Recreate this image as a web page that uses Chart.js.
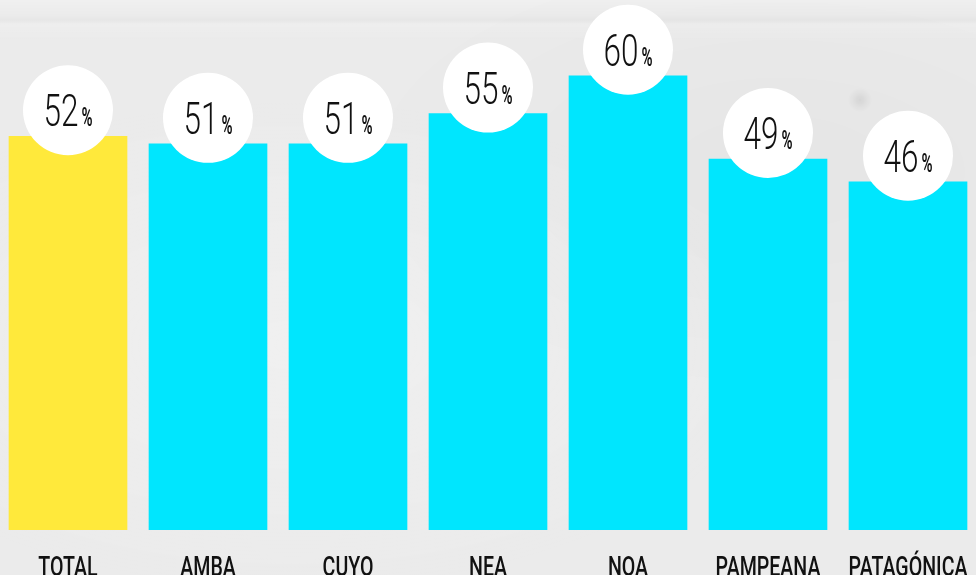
<!DOCTYPE html>
<html>
<head>
<meta charset="utf-8">
<script src="https://cdn.jsdelivr.net/npm/chart.js@4.4.1/dist/chart.umd.min.js"></script>
<style>
  html, body { margin:0; padding:0; width:976px; height:575px; overflow:hidden; }
  body {
    background-color:#ebebeb;
    background-image:
      linear-gradient(180deg, rgba(255,255,255,0.25) 0px, rgba(255,255,255,0) 16px, rgba(0,0,0,0.02) 20px, rgba(255,255,255,0.15) 24px, rgba(255,255,255,0) 40px),
      radial-gradient(circle at 860px 100px, rgba(0,0,0,0.08) 0, rgba(0,0,0,0) 12px),
      radial-gradient(circle at 380px 140px, rgba(0,0,0,0.05) 0, rgba(0,0,0,0) 9px),
      radial-gradient(circle at 955px 520px, rgba(0,0,0,0.05) 0, rgba(0,0,0,0) 10px),
      radial-gradient(ellipse at 30% 60%, rgba(255,255,255,0.25) 0, rgba(255,255,255,0) 50%),
      radial-gradient(ellipse at 80% 30%, rgba(0,0,0,0.025) 0, rgba(0,0,0,0) 40%);
  }
  #wrap { position:absolute; left:-2px; top:0; width:980px; height:583px; }
</style>
</head>
<body>
<div id="wrap"><canvas id="c"></canvas></div>
<script>
const categories = ['TOTAL', 'AMBA', 'CUYO', 'NEA', 'NOA', 'PAMPEANA', 'PATAGÓNICA'];
const values = [52, 51, 51, 55, 60, 49, 46];
const barColors = ['#FFE93B', '#00E6FE', '#00E6FE', '#00E6FE', '#00E6FE', '#00E6FE', '#00E6FE'];
const yMin = 0;
const yMax = 70;

function drawScaled(ctx, text, x, y, font, sx) {
  ctx.save();
  ctx.translate(x, y);
  ctx.scale(sx, 1);
  ctx.font = font;
  ctx.fillText(text, 0, 0);
  ctx.restore();
}

const bubbleLabels = {
  id: 'bubbleLabels',
  afterDatasetsDraw(chart) {
    const ctx = chart.ctx;
    const meta = chart.getDatasetMeta(0);
    meta.data.forEach((bar, i) => {
      const cx = bar.x;
      const cy = bar.y - 26;
      ctx.save();
      ctx.beginPath();
      ctx.arc(cx, cy, 45, 0, Math.PI * 2);
      ctx.fillStyle = '#ffffff';
      ctx.fill();
      const sx = 0.7;
      const psx = 0.6;
      const numFont = '300 45px Roboto';
      const pctFont = '700 25px Roboto';
      const num = String(values[i]);
      ctx.font = numFont;
      const wNum = ctx.measureText(num).width * sx;
      ctx.font = pctFont;
      const wPct = ctx.measureText('%').width * psx;
      const gap = 3;
      const total = wNum + gap + wPct;
      const left = cx - total / 2;
      const base = cy + 16;
      ctx.fillStyle = '#111111';
      ctx.textBaseline = 'alphabetic';
      ctx.textAlign = 'left';
      drawScaled(ctx, num, left, base, numFont, sx);
      drawScaled(ctx, '%', left + wNum + gap, base, pctFont, psx);
      ctx.restore();
    });
  },
  afterDraw(chart) {
    const ctx = chart.ctx;
    const xs = chart.scales.x;
    const font = '500 28px Roboto';
    const sx = 0.7;
    ctx.save();
    ctx.fillStyle = '#111111';
    ctx.textBaseline = 'alphabetic';
    ctx.textAlign = 'left';
    categories.forEach((lab, i) => {
      const x = xs.getPixelForValue(i);
      ctx.font = font;
      const w = ctx.measureText(lab).width * sx;
      drawScaled(ctx, lab, x - w / 2, chart.chartArea.bottom + 46, font, sx);
    });
    ctx.restore();
  }
};

new Chart(document.getElementById('c'), {
  type: 'bar',
  data: {
    labels: categories,
    datasets: [{
      data: values,
      backgroundColor: barColors,
      borderWidth: 0,
      barThickness: 118
    }]
  },
  options: {
    responsive: true,
    maintainAspectRatio: false,
    animation: false,
    layout: { padding: { left: 0, right: 0, top: 0, bottom: 53 } },
    plugins: { legend: { display: false }, tooltip: { enabled: false } },
    scales: {
      x: {
        grid: { display: false, drawTicks: false },
        border: { display: false },
        ticks: { display: false }
      },
      y: {
        display: false,
        min: yMin,
        max: yMax
      }
    }
  },
  plugins: [bubbleLabels]
});
</script>
</body>
</html>
